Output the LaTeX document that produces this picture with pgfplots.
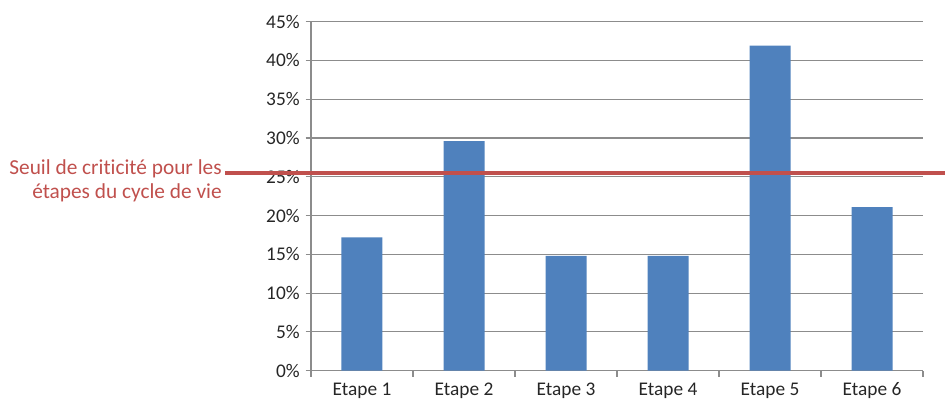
\documentclass[border=0pt]{standalone}
\usepackage{pgfplots}
\pgfplotsset{compat=1.18}
\usepackage{fontspec}
\setmainfont{Carlito}[Ligatures={NoCommon}]
\definecolor{barblue}{HTML}{4F81BD}
\definecolor{seuilred}{HTML}{C0504D}
\definecolor{gridgray}{HTML}{8C8C8C}
\definecolor{labgray}{HTML}{262626}
\begin{document}
\begin{tikzpicture}
\begin{axis}[
  at={(0,0)}, anchor=south west,
  scale only axis,
  width=459pt, height=261.75pt,
  xmin=-0.5, xmax=5.5, ymin=0, ymax=45,
  clip=false,
  axis x line*=bottom, axis y line*=left,
  axis line style={draw=gridgray, line width=0.8pt, -},
  xtick={0,1,2,3,4,5},
  xticklabels={Etape 1,Etape 2,Etape 3,Etape 4,Etape 5,Etape 6},
  minor xtick={-0.5,0.5,1.5,2.5,3.5,4.5,5.5},
  xtick style={draw=none},
  minor x tick style={draw=gridgray, line width=0.8pt},
  ytick={0,5,...,45},
  yticklabels={0\%,5\%,10\%,15\%,20\%,25\%,30\%,35\%,40\%,45\%},
  ytick style={draw=gridgray, line width=0.8pt},
  tick align=outside,
  major tick length=4pt, minor tick length=4.5pt,
  ymajorgrids,
  grid style={draw=gridgray, line width=0.8pt},
  tick label style={font=\fontsize{14.5}{16}\selectfont, text=labgray},
  xticklabel style={anchor=north, text height=10pt, text depth=3pt, yshift=-1pt},
  yticklabel style={xshift=-1pt},
]
\addplot[ybar, bar width=30.75pt, fill=barblue, draw=none] coordinates {
  (0,17.2) (1,29.6) (2,14.8) (3,14.8) (4,41.9) (5,21.1)
};
\addplot[seuilred, line width=3pt] coordinates {(-1.34,25.5) (5.72,25.5)};
\node[anchor=east, align=right, inner sep=0pt, text=seuilred,
  font=\fontsize{16}{17.5}\selectfont] at (axis cs:-1.373,24.5)
  {Seuil de criticité pour les\\étapes du cycle de vie};
\end{axis}
\pgfresetboundingbox
\path[use as bounding box] (-233.25pt,-25.7pt) rectangle (475.5pt,278.0pt);
\end{tikzpicture}
\end{document}
